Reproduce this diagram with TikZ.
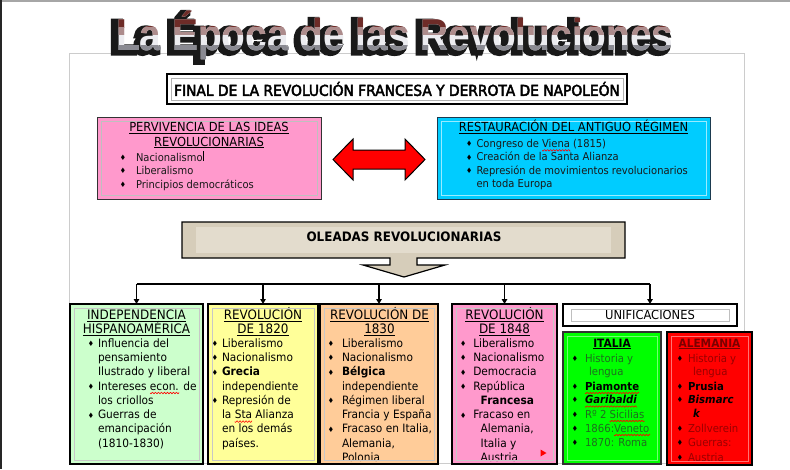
\documentclass[tikz,border=0pt]{standalone}
\usepackage{fontspec}
\setmainfont{DejaVu Sans}[FakeStretch=0.92]
\newfontfamily\headf{DejaVu Sans}[FakeStretch=0.92, FakeBold=3]
\newfontfamily\wafont{Liberation Sans}[FakeStretch=0.87]
\newfontfamily\waext{Liberation Sans}[FakeStretch=0.87, FakeBold=14]
\usetikzlibrary{arrows.meta}
\definecolor{pinkA}{HTML}{FF99CC}
\definecolor{cyanA}{HTML}{00CCFF}
\definecolor{greenL}{HTML}{CCFFCC}
\definecolor{yelL}{HTML}{FFFF99}
\definecolor{orL}{HTML}{FFCC99}
\definecolor{greenB}{HTML}{00FF00}
\definecolor{redB}{HTML}{FF0000}
\definecolor{cyanB}{HTML}{1B3A4F}
\definecolor{wa1}{HTML}{6E2C28}
\definecolor{wa2}{HTML}{ECECF0}
\definecolor{wa3}{HTML}{8A8A92}
\definecolor{oleA}{HTML}{D6CDBA}
\definecolor{oleB}{HTML}{E3DCCD}
\definecolor{itaT}{HTML}{1E6E1E}
\definecolor{aleT}{HTML}{990000}
\definecolor{aleH}{HTML}{7A0000}
\colorlet{wamid}{wa1!50!wa2}
\newcommand{\bulg}{♦}
\newcommand{\Bu}[5]{\node[bul] (#1d) at (#2,#4-3.3) {\bulg};\node[txt] (#1) at (#3,#4) {#5};}
\newcommand{\Ln}[4]{\node[txt] (#1) at (#2,#3) {#4};}
\newcommand{\Tt}[4]{\node[ctr] (#1) at (#2,#3) {\underline{#4}};}
\newcommand{\Inner}[2]{\draw[#2, line width=0.7pt] ([shift={(4,4)}]#1.north west) rectangle ([shift={(-4,-4)}]#1.south east);}
\newcommand{\WAtext}{La Época de las Revoluciones}
% spelling squiggle: x1, x2, y
\newcommand{\Zig}[3]{\draw[squig] plot[domain=#1:#2, samples=60] (\x,{#3+0.8*sin(120*(\x-#1))});}
\begin{document}
\begin{tikzpicture}[x=1pt,y=-1pt,
  box/.style={draw=black, line width=1.2pt, inner sep=0pt, outer sep=0pt},
  txt/.style={anchor=base west, inner sep=0pt, outer sep=0pt},
  ctr/.style={anchor=base, inner sep=0pt, outer sep=0pt},
  bul/.style={inner sep=0pt, outer sep=0pt, anchor=center, font=\fontsize{7.5}{8}\selectfont, text=black},
  conn/.style={line width=1.4pt, black},
  arr/.style={conn, -{Triangle[length=5pt,width=5.5pt]}},
  wa/.style={anchor=base west, inner sep=0pt, outer sep=0pt, font=\wafont\fontsize{44.7}{50}\selectfont\bfseries},
  waex/.style={anchor=base west, inner sep=0pt, outer sep=0pt, font=\waext\fontsize{44.7}{50}\selectfont\bfseries},
  squig/.style={draw=red, line width=0.6pt, line join=round},
  ]
\useasboundingbox (0,0) rectangle (790,469);
\fill[white] (0,0) rectangle (790,469);
% page lines and frame
\draw[black!20, line width=0.8pt] (69,53) rectangle (744,463);
\draw[black!35, line width=2pt] (0,1) -- (790,1);
\draw[black!85, line width=1.6pt] (0.8,0) -- (0.8,469);

% WordArt title: extrusion, silver face, brown top, gray bottom
\node[waex, text=black!90] (wash) at (111.5,52.5) {\WAtext};
\node[wa, text=wa2] (wafront) at (116,50) {\WAtext};
\begin{scope}
  \clip (0,0) rectangle (790,27);
  \node[wa, text=wa1] (wabr) at (116,50) {\WAtext};
\end{scope}
\begin{scope}
  \clip (0,27) rectangle (790,34);
  \node[wa, text=wamid] (wamd) at (116,50) {\WAtext};
\end{scope}
\begin{scope}
  \clip (0,45.5) rectangle (790,60);
  \node[wa, text=wa3] (wagr) at (116,50) {\WAtext};
\end{scope}

% heading
\node[box, minimum width=460pt, minimum height=30pt, font=\headf\fontsize{15}{17}\selectfont] (head) at (397,89) {FINAL DE LA REVOLUCIÓN FRANCESA Y DERROTA DE NAPOLEÓN};
\Inner{head}{black!30}

% top boxes
\node[box, draw=black!80, line width=1pt, fill=pinkA, minimum width=224pt, minimum height=82pt] (pvb) at (209,158) {};
\node[box, draw=cyanB, line width=1pt, fill=cyanA, minimum width=273pt, minimum height=82pt] (rest) at (573.5,158) {};
\Inner{pvb}{black!25}
\Inner{rest}{white!60!cyanA}

\begin{scope}[font=\fontsize{12.5}{14}\selectfont]
\Tt{pvt1}{209}{131.5}{PERVIVENCIA DE LAS IDEAS}
\Tt{pvt2}{209}{146}{REVOLUCIONARIAS}
\Tt{rt1}{573.5}{131.5}{RESTAURACIÓN DEL ANTIGUO RÉGIMEN}
\end{scope}
\begin{scope}[font=\fontsize{10.8}{12}\selectfont, text=black!90]
\Bu{pv1}{123}{136}{161}{Nacionalismo}
\Bu{pv2}{123}{136}{174.5}{Liberalismo}
\Bu{pv3}{123}{136}{188}{Principios democráticos}
\Bu{rt2}{469.3}{476.5}{147.3}{Congreso de Viena (1815)}
\Bu{rt3}{469.3}{476.5}{160.7}{Creación de la Santa Alianza}
\Bu{rt4}{469.3}{476.5}{174}{Represión de movimientos revolucionarios}
\Ln{rt5}{476.5}{187.3}{en toda Europa}
\end{scope}
% text cursor after "Nacionalismo"
\draw[black, line width=0.6pt] ([xshift=1pt]pv1.base east) -- ++(0,-10);

% red double arrow
\draw[black, line width=1pt, fill=red, line join=miter] (333,159.5) -- (353,139) -- (353,150) -- (405,150) -- (405,139) -- (425,159.5) -- (405,180) -- (405,169) -- (353,169) -- (353,180) -- cycle;
\coordinate (dblarr) at (379,159.5);

% oleadas callout
\draw[black, line width=1.2pt, fill=oleA] (182,222) -- (625,222) -- (625,258) -- (417,258) -- (417,265) -- (445,265) -- (404,277) -- (363,265) -- (390,265) -- (390,258) -- (182,258) -- cycle;
\fill[oleB] (196,227) rectangle (611,253);
\node[ctr, font=\bfseries\fontsize{13}{15}\selectfont] (olea) at (404,241.7) {OLEADAS REVOLUCIONARIAS};

% bottom boxes
\node[box, fill=greenL, minimum width=133pt, minimum height=160pt] (indep) at (136.5,384) {};
\node[box, fill=yelL, minimum width=110pt, minimum height=160pt] (r20) at (263,384) {};
\node[box, fill=orL, minimum width=118pt, minimum height=160pt] (r30) at (379,384) {};
\node[box, fill=pinkA, minimum width=105pt, minimum height=160pt] (r48) at (504.5,384) {};
\node[box, fill=white, minimum width=174pt, minimum height=22pt, font=\fontsize{12.5}{14}\selectfont] (unif) at (650,315) {UNIFICACIONES};
\node[box, draw=black!80, fill=greenB, minimum width=98pt, minimum height=132pt] (ita) at (612,398) {};
\node[box, fill=redB, minimum width=85pt, minimum height=133pt] (ale) at (709.5,398.5) {};

% connectors
\coordinate (bus) at (0,284);
\draw[conn] (indep.north |- bus) -- (unif.north |- bus);
\foreach \n in {indep,r20,r30,r48,unif} {\draw[arr] (\n.north |- bus) -- (\n.north);}

\begin{scope}[font=\fontsize{13}{15}\selectfont]
\Tt{in1}{136.5}{319.3}{INDEPENDENCIA}
\Tt{in2}{136.5}{333.3}{HISPANOAMÉRICA}
\Tt{a1}{263}{319.3}{REVOLUCIÓN}
\Tt{a2}{263}{333.3}{DE 1820}
\Tt{b1}{379.5}{319.3}{REVOLUCIÓN DE}
\Tt{b2}{379.5}{333.3}{1830}
\Tt{c1}{504.5}{319.3}{REVOLUCIÓN}
\Tt{c2}{504.5}{333.3}{DE 1848}
\end{scope}
\begin{scope}[font=\fontsize{11.5}{13}\selectfont]
\Bu{in3}{91}{98}{347.3}{Influencia del}
\Ln{in4}{98}{361.5}{pensamiento}
\Ln{in5}{98}{375.8}{Ilustrado y liberal}
\Bu{in6}{91}{98}{390}{Intereses econ. de}
\Ln{in7}{98}{404.3}{los criollos}
\Bu{in8}{91}{98}{418.6}{Guerras de}
\Ln{in9}{98}{432.8}{emancipación}
\Ln{in10}{98}{447}{(1810-1830)}
\Bu{a3}{215}{222}{347.3}{Liberalismo}
\Bu{a4}{215}{222}{361.5}{Nacionalismo}
\Bu{a5}{215}{222}{375.8}{\textbf{Grecia}}
\Ln{a6}{222}{390}{independiente}
\Bu{a7}{215}{222}{404.3}{Represión de}
\Ln{a8}{222}{418.6}{la Sta Alianza}
\Ln{a9}{222}{432.8}{en los demás}
\Ln{a10}{222}{447}{países.}
\Bu{b3}{331}{342}{347.3}{Liberalismo}
\Bu{b4}{331}{342}{361.5}{Nacionalismo}
\Bu{b5}{331}{342}{375.8}{\textbf{Bélgica}}
\Ln{b6}{342}{390}{independiente}
\Bu{b7}{331}{342}{404.3}{Régimen liberal}
\Ln{b8}{342}{418.6}{Francia y España}
\Bu{b9}{331}{342}{432.8}{Fracaso en Italia,}
\Ln{b10}{342}{447}{Alemania,}
\Ln{b11}{342}{461.3}{Polonia}
\Bu{c3}{463.3}{473.3}{347.3}{Liberalismo}
\Bu{c4}{463.3}{473.3}{361.5}{Nacionalismo}
\Bu{c5}{463.3}{473.3}{375.8}{Democracia}
\Bu{c6}{463.3}{473.3}{390}{República}
\Ln{c7}{480.7}{404.3}{\textbf{Francesa}}
\Bu{c8}{463.3}{473.3}{418.6}{Fracaso en}
\Ln{c9}{480.7}{432.8}{Alemania,}
\Ln{c10}{480.7}{447}{Italia y}
\Ln{c11}{480.7}{461.3}{Austria}
\end{scope}
\fill[red] (540.5,449.5) -- (546.5,453) -- (540.5,456.5) -- cycle;

% Italia / Alemania
\begin{scope}[font=\bfseries\fontsize{11.5}{13}\selectfont]
\Tt{it1}{612}{347}{ITALIA}
\begin{scope}[text=aleH]
\Tt{al1}{709.5}{347}{ALEMANIA}
\end{scope}
\end{scope}
\begin{scope}[font=\fontsize{11}{13}\selectfont, text=itaT]
\Bu{i2}{575}{585}{362}{Historia y}
\Ln{i3}{589}{375.5}{lengua}
\Bu{i4}{575}{585}{390}{\textcolor{black}{\textbf{Piamonte}}}
\Bu{i5}{575}{585}{403.5}{\textcolor{black}{\textbf{\textit{Garibaldi}}}}
\Bu{i6}{575}{585}{418}{Rº 2 Sicilias}
\Bu{i7}{575}{585}{432}{1866:Veneto}
\Bu{i8}{575}{585}{446}{1870: Roma}
\end{scope}
\begin{scope}[font=\fontsize{11}{13}\selectfont, text=aleT]
\Bu{al2}{680}{688}{362}{Historia y}
\Ln{al3}{693}{375.5}{lengua}
\Bu{al4}{680}{688}{390}{\textcolor{black}{\textbf{Prusia}}}
\Bu{al5}{680}{688}{403.5}{\textcolor{black}{\textbf{\textit{Bismarc}}}}
\Ln{al6}{693}{417.5}{\textcolor{black}{\textbf{\textit{k}}}}
\Bu{al7}{680}{688}{432}{Zollverein}
\Bu{al8}{680}{688}{446}{Guerras:}
\Bu{al9}{680}{688}{461}{Austria}
\end{scope}

% spelling squiggles
\Zig{542.3}{570.4}{150.3}
\Zig{150.2}{179.1}{393}
\Zig{234.8}{252.2}{421.6}
\Zig{585}{639.1}{393}
\Zig{585}{636.9}{406.5}
\Zig{609.7}{644.4}{421}
\Zig{614.2}{650.1}{435}

% inner frames
\Inner{indep}{black!22}
\Inner{r20}{black!22}
\Inner{r30}{black!22}
\Inner{r48}{black!22}
\draw[black!25, line width=0.7pt] ([shift={(8,5)}]unif.north west) rectangle ([shift={(-8,-5)}]unif.south east);
\Inner{ita}{white!45!greenB}
\Inner{ale}{white!45!redB}
\end{tikzpicture}
\end{document}
